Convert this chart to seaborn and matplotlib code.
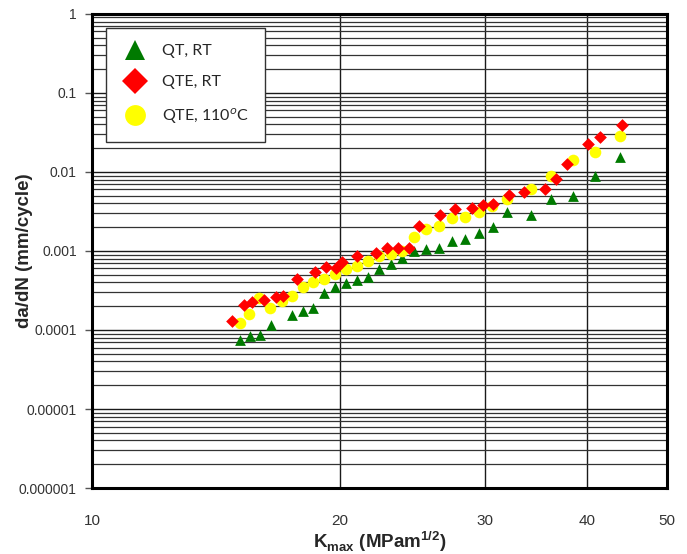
import numpy as np
import pandas as pd
import matplotlib
matplotlib.use("Agg")
import matplotlib.pyplot as plt
import seaborn as sns
from matplotlib.ticker import FixedLocator, FixedFormatter, LogLocator, NullFormatter, NullLocator
from matplotlib.lines import Line2D

# Data
qt_rt_k = [15.13, 15.56, 16.00, 16.49, 17.50, 18.05, 18.56, 19.12, 19.74, 20.35,
           20.98, 21.64, 22.33, 23.06, 23.83, 24.63, 25.47, 26.39, 27.37, 28.43,
           29.52, 30.69, 31.94, 34.16, 36.14, 38.41, 40.91, 43.85]
qt_rt_dadn = [7.58e-5, 8.40e-5, 8.64e-5, 1.167e-4, 1.54e-4, 1.74e-4, 1.90e-4, 2.90e-4, 3.45e-4, 3.88e-4,
              4.23e-4, 4.69e-4, 5.88e-4, 6.75e-4, 8.15e-4, 1.0e-3, 1.051e-3, 1.091e-3, 1.338e-3, 1.41e-3,
              1.704e-3, 2.012e-3, 3.12e-3, 2.88e-3, 4.58e-3, 4.90e-3, 8.95e-3, 1.562e-2]

qte_rt_k = [14.81, 15.32, 15.64, 16.20, 16.74, 17.08, 17.74, 18.64, 19.24, 19.78,
            20.13, 21.01, 22.14, 22.84, 23.53, 24.26, 24.94, 26.50, 27.61, 28.95,
            29.86, 30.69, 32.12, 33.46, 35.56, 36.63, 37.74, 40.08, 41.46, 44.13]
qte_rt_dadn = [1.31e-4, 2.05e-4, 2.28e-4, 2.38e-4, 2.64e-4, 2.69e-4, 4.42e-4, 5.47e-4, 6.33e-4, 6.15e-4,
               7.32e-4, 8.72e-4, 9.35e-4, 1.075e-3, 1.075e-3, 1.075e-3, 2.09e-3, 2.81e-3, 3.37e-3, 3.45e-3,
               3.86e-3, 3.93e-3, 5.07e-3, 5.63e-3, 6.06e-3, 8.04e-3, 1.255e-2, 2.24e-2, 2.76e-2, 3.96e-2]

qte_110_k = [15.13, 15.53, 15.97, 16.46, 17.01, 17.49, 18.03, 18.54, 19.12, 19.72,
             20.33, 20.97, 21.63, 22.33, 23.07, 23.83, 24.63, 25.45, 26.39, 27.37,
             28.43, 29.53, 30.64, 31.92, 34.19, 36.09, 38.44, 40.91, 43.85]
qte_110_dadn = [1.209e-4, 1.603e-4, 2.504e-4, 1.91e-4, 2.308e-4, 2.71e-4, 3.53e-4, 4.05e-4, 4.36e-4, 5.08e-4,
                5.88e-4, 6.52e-4, 7.43e-4, 8.52e-4, 9.24e-4, 1.012e-3, 1.504e-3, 1.883e-3, 2.042e-3, 2.594e-3,
                2.71e-3, 3.07e-3, 3.71e-3, 4.51e-3, 6.04e-3, 8.95e-3, 1.406e-2, 1.776e-2, 2.88e-2]

series_names = ["QT, RT", "QTE, RT", "QTE, 110$^{o}$C"]
x_ticks = [10, 20, 30, 40, 50]
y_ticks = [1e-6, 1e-5, 1e-4, 1e-3, 1e-2, 1e-1, 1]
y_tick_labels = ["0.000001", "0.00001", "0.0001", "0.001", "0.01", "0.1", "1"]

df = pd.concat([
    pd.DataFrame({"K": qt_rt_k, "dadn": qt_rt_dadn, "series": series_names[0]}),
    pd.DataFrame({"K": qte_110_k, "dadn": qte_110_dadn, "series": series_names[2]}),
    pd.DataFrame({"K": qte_rt_k, "dadn": qte_rt_dadn, "series": series_names[1]}),
])

sns.set_style("white")
plt.rcParams["font.family"] = ["Liberation Sans", "DejaVu Sans"]
plt.rcParams["mathtext.fontset"] = "custom"
plt.rcParams["mathtext.rm"] = "Liberation Sans:bold"
plt.rcParams["mathtext.bf"] = "Liberation Sans:bold"

colors = {series_names[0]: "#007a00", series_names[1]: "#ff0000", series_names[2]: "#ffff00"}
markers = {series_names[0]: "^", series_names[1]: "D", series_names[2]: "o"}
sizes = {series_names[0]: 60, series_names[1]: 42, series_names[2]: 70}

fig = plt.figure(figsize=(6.87, 5.54), dpi=100)
ax = fig.add_axes([0.134, 0.119, 0.837, 0.856])

for name in [series_names[0], series_names[2], series_names[1]]:
    sub = df[df["series"] == name]
    sns.scatterplot(data=sub, x="K", y="dadn", ax=ax, marker=markers[name],
                    color=colors[name], s=sizes[name], linewidth=0, legend=False, zorder=3)

ax.set_xscale("log")
ax.set_yscale("log")
ax.set_xlim(10, 50)
ax.set_ylim(1e-6, 1)

ax.xaxis.set_major_locator(FixedLocator(x_ticks))
ax.xaxis.set_major_formatter(FixedFormatter([str(v) for v in x_ticks]))
ax.xaxis.set_minor_locator(NullLocator())
ax.yaxis.set_major_locator(FixedLocator(y_ticks))
ax.yaxis.set_major_formatter(FixedFormatter(y_tick_labels))
ax.yaxis.set_minor_locator(LogLocator(base=10, subs=np.arange(2, 10), numticks=20))
ax.yaxis.set_minor_formatter(NullFormatter())

ax.grid(True, which="major", axis="both", color="#1a1a1a", linewidth=1.0)
ax.grid(True, which="minor", axis="y", color="#333333", linewidth=0.9)
ax.set_axisbelow(True)

ax.tick_params(axis="y", which="major", direction="out", length=5, width=1, color="#555555",
               pad=6, labelsize=10, labelcolor="#333333", left=True)
ax.tick_params(axis="y", which="minor", length=0)
ax.tick_params(axis="x", which="major", length=0, pad=19, labelsize=11, labelcolor="#333333")

for side in ["left", "bottom", "right", "top"]:
    ax.spines[side].set_visible(True)
    ax.spines[side].set_color("black")
    ax.spines[side].set_linewidth(2.2)

ax.set_xlabel(r"K$_{\mathrm{max}}$ (MPam$^{\mathrm{1/2}}$)", fontsize=13.5, fontweight="bold", va="center")
ax.xaxis.set_label_coords(0.5, -0.112)
ax.set_ylabel("da/dN (mm/cycle)", fontsize=13.5, fontweight="bold", va="center")
ax.yaxis.set_label_coords(-0.117, 0.5)

handles = [Line2D([], [], linestyle="none", marker=markers[n], color=colors[n],
                  markersize=ms, markeredgewidth=0) for n, ms in zip(series_names, [14, 13, 15])]
leg = ax.legend(handles, series_names, loc="upper left", bbox_to_anchor=(0.024, 0.97),
                frameon=True, fancybox=False, edgecolor="#333333", framealpha=1,
                prop={"family": "Lato", "size": 11.5}, handletextpad=0.9, borderpad=1.0,
                labelspacing=1.05, handlelength=1.6, borderaxespad=0)
leg.get_frame().set_linewidth(1.0)
leg.set_zorder(5)

fig.savefig("out.png", dpi=100)
